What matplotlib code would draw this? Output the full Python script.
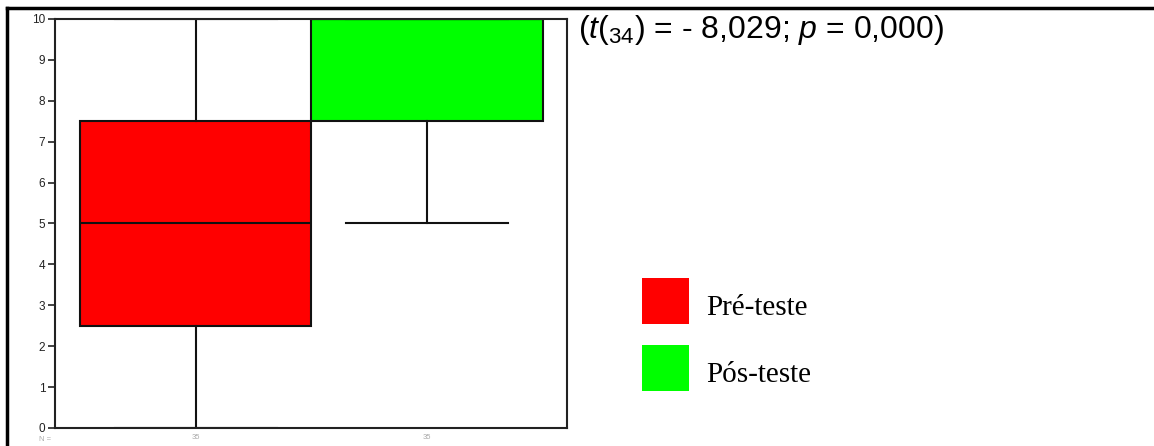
import matplotlib
matplotlib.use("Agg")
import matplotlib.pyplot as plt
from matplotlib.lines import Line2D
from matplotlib.patches import Rectangle

plt.rcParams["font.family"] = ["Liberation Sans", "DejaVu Sans"]
plt.rcParams["mathtext.fontset"] = "custom"
plt.rcParams["mathtext.rm"] = "Liberation Sans"
plt.rcParams["mathtext.it"] = "Liberation Sans:italic"

# Group summaries (score 0-10)
groups = ["Pré-teste", "Pós-teste"]
counts = [35, 35]
medians = [5.0, 10.0]
q1s = [2.5, 7.5]
q3s = [7.5, 10.0]
whisk_lo = [0.0, 5.0]
whisk_hi = [10.0, 10.0]
colors = ["#ff0000", "#00ff00"]
yticks = list(range(0, 11))

W, H = 1154, 446
fig = plt.figure(figsize=(W / 100, H / 100), dpi=100)

def fx(px):
    return px / W

def fy(py):
    return 1 - py / H

ax = fig.add_axes([fx(55), fy(428), fx(567) - fx(55), fy(19) - fy(428)])

stats = []
for g, n, md, a, b, lo, hi in zip(groups, counts, medians, q1s, q3s, whisk_lo, whisk_hi):
    stats.append(dict(label=str(n), med=md, q1=a, q3=b, whislo=lo, whishi=hi, fliers=[]))

positions = [1, 2]
bp = ax.bxp(stats, positions=positions, widths=1.0, patch_artist=True,
            showfliers=False, capwidths=0.7,
            boxprops=dict(edgecolor="#111111", linewidth=1.5),
            whiskerprops=dict(color="#111111", linewidth=1.5),
            capprops=dict(color="#111111", linewidth=1.5),
            medianprops=dict(color="#111111", linewidth=1.5))
for patch, c in zip(bp["boxes"], colors):
    patch.set_facecolor(c)

ax.set_xlim(0.39, 2.606)
ax.set_ylim(0, 10)
ax.set_yticks(yticks)
ax.set_yticklabels([str(t) for t in yticks], fontsize=8.5, color="#222222")
ax.tick_params(axis="y", length=5, width=1.2, pad=2, color="#222222")
ax.set_xticks(positions)
ax.set_xticklabels([str(n) for n in counts], fontsize=5.5, color="#aaaaaa")
ax.tick_params(axis="x", length=0, pad=4)
for s in ax.spines.values():
    s.set_linewidth(1.5)
    s.set_color("#222222")
ax.text(-0.02, -0.02, "N =", transform=ax.transAxes, fontsize=5.5, color="#aaaaaa",
        ha="center", va="top")

# Outer frame (top and left edges)
fig.add_artist(Line2D([fx(7), 1], [fy(8), fy(8)], color="black", linewidth=2.5))
fig.add_artist(Line2D([fx(7), fx(7)], [fy(8), 0], color="black", linewidth=2.5))

# Test statistic
fig.text(fx(578), fy(30), r"($\it{t}$($_{34}$) = - 8,029; $\it{p}$ = 0,000)",
         fontsize=23, va="center", ha="left", color="black")

# Legend
box_tops = [278, 345]
for g, c, top in zip(groups, colors, box_tops):
    fig.add_artist(Rectangle((fx(642), fy(top + 46)), fx(47), 46 / H, facecolor=c,
                             edgecolor="none", transform=fig.transFigure))
    fig.text(fx(706), fy(top + 37), g, fontsize=21, family=["Liberation Serif"],
             va="baseline", ha="left", color="black")

fig.savefig("out.png", dpi=100)
